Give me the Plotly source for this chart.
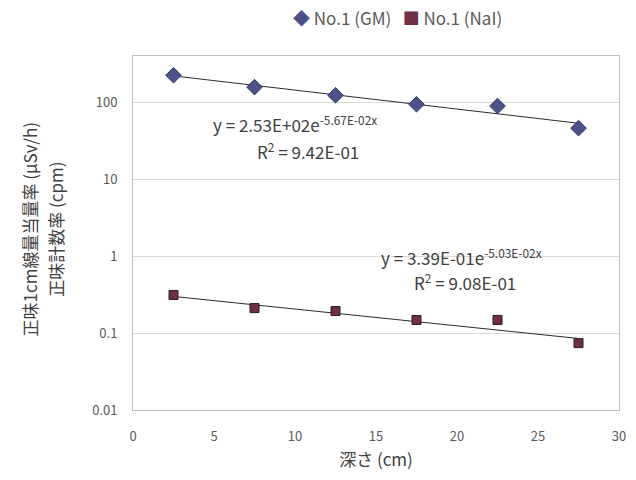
import numpy as np
import plotly.graph_objects as go

# Depth (cm) and measured values
depth = [2.5, 7.5, 12.5, 17.5, 22.5, 27.5]
gm_rate = [224, 157, 123, 94, 89, 46]          # 正味1cm線量当量率 (μSv/h)
nai_rate = [0.312, 0.211, 0.193, 0.148, 0.148, 0.074]  # 正味計数率 (cpm)

# Exponential trendline coefficients y = a * exp(b * x), and R²
gm_fit = (2.53e2, -5.67e-2, 9.42e-1)
nai_fit = (3.39e-1, -5.03e-2, 9.08e-1)

series_names = ["No.1 (GM)", "No.1 (NaI)"]
y_tickvals = [0.01, 0.1, 1, 10, 100]
y_ticktext = ["0.01", "0.1", "1", "10", "100"]
x_tickvals = [0, 5, 10, 15, 20, 25, 30]

FONT = "Noto Sans CJK JP, Noto Sans, sans-serif"
GRAY = "#595959"
DARK = "#404040"
GM_COLOR = "#4a5288"
NAI_COLOR = "#6e3046"

fig = go.Figure()

xs = np.linspace(depth[0], depth[-1], 50)
for a, b, _ in (gm_fit, nai_fit):
    fig.add_trace(go.Scatter(
        x=xs, y=a * np.exp(b * xs), mode="lines",
        line=dict(color="#2b2b2b", width=1), showlegend=False, hoverinfo="skip"))

fig.add_trace(go.Scatter(
    x=depth, y=gm_rate, mode="markers", name=series_names[0], showlegend=False,
    marker=dict(symbol="diamond", size=12, color=GM_COLOR,
                line=dict(color="#2f3566", width=1))))
fig.add_trace(go.Scatter(
    x=depth, y=nai_rate, mode="markers", name=series_names[1], showlegend=False,
    marker=dict(symbol="square", size=9, color=NAI_COLOR,
                line=dict(color="#2e1a22", width=1))))


def sci(v):
    m, e = f"{v:.2E}".split("E")
    e = int(e)
    return f"{m}E+{e:02d}" if e >= 0 else f"{m}E-{abs(e):02d}"


def eq_text(a, b):
    return f"y = {sci(a)}e<sup>{sci(b)}x</sup>"


def r2_text(r2):
    return f"R<sup>2</sup> = {sci(r2)}"


eq_font = dict(size=17, color=DARK, family=FONT)
# Equation and R² labels for each trendline (data coordinates)
fig.add_annotation(x=10.0, y=np.log10(52), text=eq_text(gm_fit[0], gm_fit[1]),
                   showarrow=False, font=eq_font)
fig.add_annotation(x=10.8, y=np.log10(23.5), text=r2_text(gm_fit[2]),
                   showarrow=False, font=eq_font)
fig.add_annotation(x=20.3, y=np.log10(0.98), text=eq_text(nai_fit[0], nai_fit[1]),
                   showarrow=False, font=eq_font)
fig.add_annotation(x=20.5, y=np.log10(0.46), text=r2_text(nai_fit[2]),
                   showarrow=False, font=eq_font)

# Legend row above the plot
legend_text = (f'<span style="color:{GM_COLOR}">◆</span> {series_names[0]}   '
               f'<span style="color:{NAI_COLOR}">■</span> {series_names[1]}')
fig.add_annotation(xref="paper", yref="paper", x=0.545, y=1.11, xanchor="center",
                   yanchor="middle", text=legend_text, showarrow=False,
                   font=dict(size=17, color=GRAY, family=FONT))

# Two-line y-axis title
for txt, xp in (("正味1cm線量当量率 (μSv/h)", -0.214), ("正味計数率 (cpm)", -0.16)):
    fig.add_annotation(xref="paper", yref="paper", x=xp, y=0.51, xanchor="center",
                       yanchor="middle", text=txt, textangle=-90, showarrow=False,
                       font=dict(size=17, color=DARK, family=FONT))

fig.update_layout(
    width=636, height=480,
    margin=dict(l=133, r=10, t=56, b=70),
    paper_bgcolor="white", plot_bgcolor="white",
    font=dict(family=FONT, color=GRAY, size=13),
    showlegend=False,
    xaxis=dict(range=[0, 30], tickvals=x_tickvals, showgrid=False, zeroline=False,
               showline=True, mirror=True, linecolor="#bfbfbf", linewidth=1,
               ticks="", ticklabelstandoff=14, tickfont=dict(size=13, color=GRAY),
               title=dict(text="深さ (cm)", font=dict(size=17, color=DARK), standoff=10)),
    yaxis=dict(type="log", range=[-2, 2.6], tickvals=y_tickvals, ticktext=y_ticktext,
               showgrid=True, gridcolor="#d9d9d9", gridwidth=1, zeroline=False,
               showline=True, mirror=True, linecolor="#bfbfbf", linewidth=1,
               ticks="", ticklabelstandoff=12, tickfont=dict(size=13, color=GRAY)),
)

fig.write_html("out.html")
